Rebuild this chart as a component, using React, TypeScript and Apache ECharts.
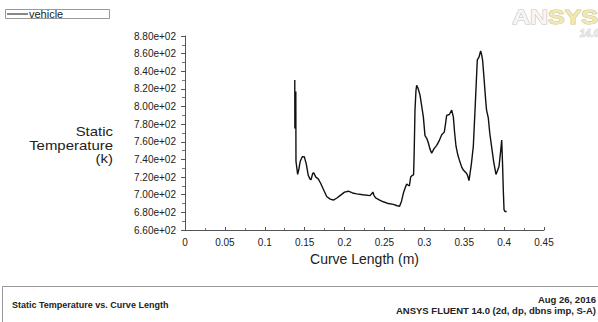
import React, { useEffect, useRef } from "react";
import * as echarts from "echarts";

const curveLength: number[] = [
  0.1376, 0.1377, 0.1389, 0.1391, 0.1412, 0.1425, 0.1445, 0.147, 0.1496, 0.152, 0.1545, 0.1565, 0.158,
  0.16, 0.1612, 0.164, 0.167, 0.17, 0.174, 0.1776, 0.182, 0.186, 0.19, 0.1943, 0.2, 0.2047, 0.21,
  0.2152, 0.223, 0.2319, 0.234, 0.2355, 0.237, 0.239, 0.244, 0.2486, 0.255, 0.2611, 0.266, 0.269,
  0.2715, 0.2737, 0.276, 0.2779, 0.2795, 0.2812, 0.2829, 0.285, 0.2865, 0.2872, 0.2883, 0.2895,
  0.2904, 0.292, 0.2946, 0.2968, 0.2988, 0.3008, 0.303, 0.305, 0.307, 0.3092, 0.312, 0.3155, 0.319,
  0.3218, 0.325, 0.3265, 0.328, 0.3313, 0.3343, 0.3364, 0.338, 0.3397, 0.342, 0.3447, 0.347, 0.3489,
  0.3531, 0.3545, 0.356, 0.359, 0.3614, 0.364, 0.3664, 0.3685, 0.3706, 0.372, 0.3731, 0.375, 0.3769,
  0.378, 0.3802, 0.382, 0.3844, 0.387, 0.3898, 0.3915, 0.3936, 0.3955, 0.397, 0.398, 0.399, 0.3999,
  0.401, 0.4032,
];

const staticTemperature: number[] = [
  830, 775, 817, 738, 723, 728, 738, 743, 743, 735, 722, 718, 717,
  724, 725, 720, 718, 713, 705, 698, 695, 694, 696, 699, 703, 704, 702,
  701, 700, 699, 701, 703, 699, 696.5, 694, 692, 690, 689, 687.5, 687,
  693, 701.6, 708, 712, 711, 710, 720, 722, 722.5, 745, 796, 818,
  824, 821, 813, 800, 788, 767, 764, 759, 752, 747, 752, 756, 762,
  768, 771, 780, 790, 791, 796, 788, 770, 755, 745, 737, 731, 728,
  724, 721, 716, 735, 755, 805, 853, 856, 863, 858, 852, 830, 807,
  796, 787, 770, 754, 737, 723, 727, 732, 748, 762, 736, 705, 683,
  681, 681,
];

const seriesName = "vehicle";
const yAxisTitle = ["Static", "Temperature", "(k)"];
const xAxisTitle = "Curve Length (m)";
const plotTitle = "Static Temperature vs. Curve Length";
const dateText = "Aug 26, 2016";
const solverText = "ANSYS FLUENT 14.0 (2d, dp, dbns imp, S-A)";

const FONT = "Liberation Sans, Arial, sans-serif";

export default function App() {
  const ref = useRef<HTMLDivElement>(null);
  useEffect(() => {
    if (!ref.current) return;
    const chart = echarts.init(ref.current, null, { renderer: "svg" });
    const data = curveLength.map((x, i) => [x, staticTemperature[i]]);
    chart.setOption({
      animation: false,
      backgroundColor: "#ffffff",
      grid: { left: 185, right: 54, top: 36, bottom: 92, containLabel: false },
      xAxis: {
        type: "value",
        min: 0,
        max: 0.45,
        interval: 0.05,
        axisLine: { onZero: false, lineStyle: { color: "#555", width: 1 } },
        axisTick: { show: true, length: 3, inside: true, lineStyle: { color: "#555" } },
        minorTick: { show: true, splitNumber: 2, length: 2, lineStyle: { color: "#777" } },
        splitLine: { show: false },
        axisLabel: {
          color: "#222",
          fontSize: 10,
          fontFamily: FONT,
          margin: 7,
          formatter: (v: number) => String(Math.round(v * 100) / 100),
        },
        name: xAxisTitle,
        nameLocation: "middle",
        nameGap: 21,
        nameTextStyle: { color: "#222", fontSize: 14, fontFamily: FONT },
      },
      yAxis: {
        type: "value",
        min: 660,
        max: 880,
        interval: 20,
        axisLine: { show: true, lineStyle: { color: "#555", width: 1 } },
        axisTick: { show: true, length: 4, lineStyle: { color: "#555" } },
        minorTick: { show: true, splitNumber: 2, length: 3, lineStyle: { color: "#777" } },
        splitLine: { show: false },
        axisLabel: {
          color: "#222",
          fontSize: 10,
          fontFamily: FONT,
          margin: 9,
          formatter: (v: number) => (v / 100).toFixed(2) + "e+02",
        },
      },
      series: [
        {
          name: seriesName,
          type: "line",
          data,
          symbol: "none",
          lineStyle: { color: "#111", width: 1.4 },
        },
      ],
      graphic: [
        { type: "rect", shape: { x: 5.5, y: 9.5, width: 104, height: 9 }, style: { fill: "#fff", stroke: "#999", lineWidth: 1 } },
        { type: "line", shape: { x1: 7, y1: 14, x2: 28, y2: 14 }, style: { stroke: "#111", lineWidth: 1 } },
        { type: "text", x: 29, y: 14, style: { text: seriesName, fontSize: 11, fontFamily: FONT, fill: "#222", verticalAlign: "middle" } },
        {
          type: "text",
          x: 113,
          y: 145,
          scaleX: 1.15,
          style: {
            text: yAxisTitle.join("\n"),
            fontSize: 13,
            lineHeight: 13.5,
            fontFamily: FONT,
            fill: "#222",
            align: "right",
            verticalAlign: "middle",
          },
        },
        {
          type: "text",
          x: 598,
          y: 17,
          scaleX: 1.25,
          style: {
            text: "{a|AN}{b|SYS}",
            align: "right",
            verticalAlign: "middle",
            rich: {
              a: { fontSize: 20, fontWeight: "bold", fontFamily: FONT, fill: "#f6f6f6", stroke: "#c4c4c4", lineWidth: 1 },
              b: { fontSize: 20, fontWeight: "bold", fontFamily: FONT, fill: "#efe9b4", stroke: "#cdc48f", lineWidth: 1 },
            },
          },
        },
        { type: "text", x: 599, y: 33, style: { text: "14.0", align: "right", verticalAlign: "middle", fontSize: 10, fontWeight: "bold", fontStyle: "italic", fontFamily: FONT, fill: "#e6e6e6", stroke: "#c4c4c4", lineWidth: 0.5 } },
        { type: "rect", shape: { x: 2.5, y: 286.5, width: 600, height: 60 }, style: { fill: "none", stroke: "#999", lineWidth: 1 } },
        { type: "text", x: 12, y: 305, style: { text: plotTitle, fontSize: 9, fontWeight: "bold", fontFamily: FONT, fill: "#222", verticalAlign: "middle" } },
        { type: "text", x: 596, y: 299, style: { text: dateText, fontSize: 9.5, fontWeight: "bold", fontFamily: FONT, fill: "#222", align: "right", verticalAlign: "middle" } },
        { type: "text", x: 596, y: 310, style: { text: solverText, fontSize: 9.5, fontWeight: "bold", fontFamily: FONT, fill: "#222", align: "right", verticalAlign: "middle" } },
      ],
    });
    return () => chart.dispose();
  }, []);
  return <div ref={ref} style={{ width: 598, height: 322, position: "absolute", left: 0, top: 0 }} />;
}
